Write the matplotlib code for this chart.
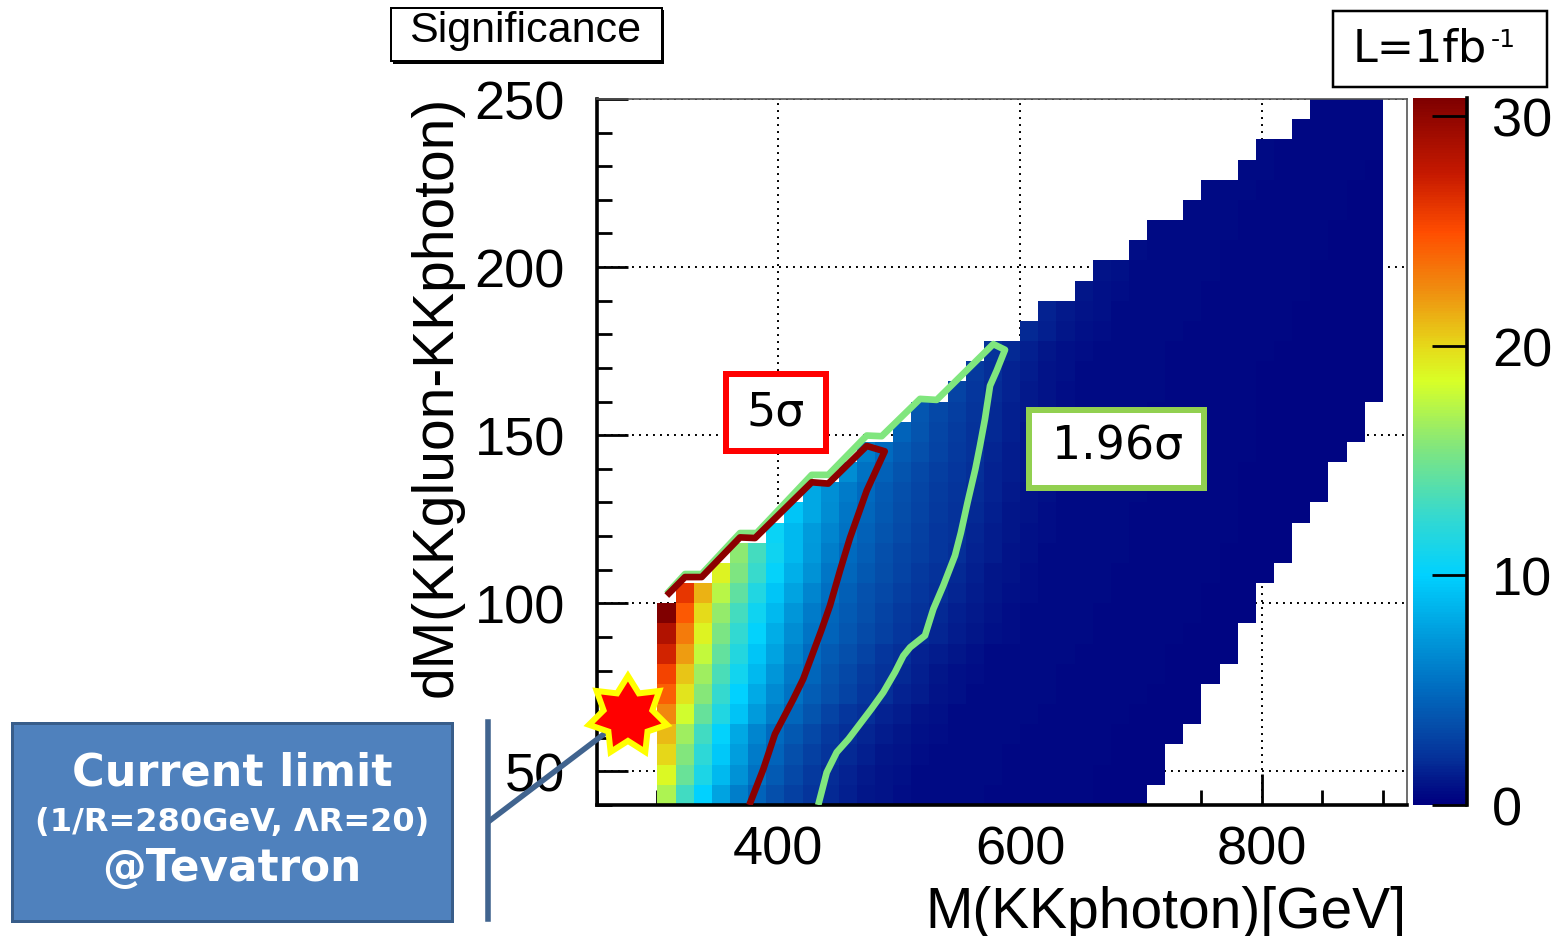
import numpy as np
import matplotlib
matplotlib.use("Agg")
import matplotlib.pyplot as plt
from matplotlib.colors import LinearSegmentedColormap
from matplotlib.patches import Rectangle, Polygon
from matplotlib.lines import Line2D
from matplotlib.ticker import MultipleLocator, FixedLocator

plt.rcParams['font.family'] = ['Liberation Sans', 'DejaVu Sans']

# ------------------------------------------------------------------ data
M_axis_range = [250, 920]          # M(KKphoton) [GeV]
dM_axis_range = [40, 250]          # dM(KKgluon-KKphoton) [GeV]
M_bin_low, M_bin_high, M_bin_width = 300, 900, 15
dM_bin_low, dM_bin_high, dM_bin_width = 40, 250, 6

# lower M edge of the first filled cell in each dM row (rows from dM=40 upwards)
row_first_M = [300, 300, 300, 300, 300, 300, 300, 300, 300, 300,
               315, 345, 360, 390, 405, 420, 450, 465, 495, 510,
               540, 555, 570, 600, 615, 645, 660, 690, 705, 735,
               750, 780, 795, 825, 840]

# significance per cell, row by row (dM = 40-46, 46-52, ...), left to right in M
sig_rows = [
    [17.0, 13.1, 10.1, 7.8, 6.0, 4.6, 3.6, 2.8, 2.2, 1.74, 1.37, 1.08, 0.86, 0.68, 0.58, 0.56, 0.53, 0.50, 0.48, 0.45, 0.43, 0.41, 0.39, 0.37, 0.35, 0.33, 0.32],
    [18.7, 14.6, 11.4, 8.9, 6.9, 5.4, 4.2, 3.2, 2.5, 1.91, 1.51, 1.19, 0.94, 0.74, 0.60, 0.57, 0.54, 0.51, 0.49, 0.46, 0.44, 0.42, 0.40, 0.38, 0.36, 0.34, 0.32, 0.31],
    [20.0, 15.6, 12.2, 9.6, 7.5, 5.8, 4.6, 3.6, 2.8, 2.2, 1.74, 1.37, 1.08, 0.86, 0.68, 0.58, 0.56, 0.53, 0.50, 0.48, 0.45, 0.43, 0.41, 0.39, 0.37, 0.35, 0.33, 0.32],
    [21.0, 16.5, 13.0, 10.2, 8.0, 6.3, 5.0, 4.0, 3.2, 2.5, 2.0, 1.61, 1.27, 1.00, 0.79, 0.62, 0.57, 0.55, 0.52, 0.49, 0.47, 0.45, 0.42, 0.40, 0.38, 0.36, 0.34, 0.33, 0.31],
    [22.7, 18.2, 14.5, 11.6, 9.3, 7.4, 5.9, 4.7, 3.8, 3.0, 2.4, 1.94, 1.53, 1.21, 0.96, 0.75, 0.60, 0.57, 0.54, 0.51, 0.49, 0.46, 0.44, 0.42, 0.40, 0.38, 0.36, 0.34, 0.32, 0.31],
    [24.3, 19.5, 15.7, 12.6, 10.1, 8.1, 6.5, 5.3, 4.3, 3.5, 2.9, 2.4, 1.94, 1.53, 1.21, 0.96, 0.75, 0.60, 0.57, 0.54, 0.51, 0.49, 0.46, 0.44, 0.42, 0.40, 0.38, 0.36, 0.34, 0.32],
    [25.5, 20.6, 16.6, 13.4, 10.9, 8.8, 7.1, 5.7, 4.7, 3.8, 3.2, 2.6, 2.1, 1.71, 1.35, 1.07, 0.84, 0.66, 0.58, 0.55, 0.53, 0.50, 0.48, 0.45, 0.43, 0.41, 0.39, 0.37, 0.35, 0.33, 0.32],
    [27.0, 21.9, 17.7, 14.4, 11.7, 9.5, 7.7, 6.2, 5.0, 4.2, 3.5, 2.9, 2.4, 1.97, 1.56, 1.23, 0.97, 0.77, 0.60, 0.57, 0.54, 0.52, 0.49, 0.47, 0.44, 0.42, 0.40, 0.38, 0.36, 0.34, 0.33, 0.31],
    [28.5, 23.2, 18.9, 15.3, 12.5, 10.2, 8.3, 6.7, 5.5, 4.6, 3.9, 3.3, 2.8, 2.4, 1.99, 1.58, 1.25, 0.99, 0.78, 0.61, 0.57, 0.55, 0.52, 0.49, 0.47, 0.45, 0.42, 0.40, 0.38, 0.36, 0.35, 0.33],
    [30.8, 24.5, 19.9, 16.2, 13.2, 10.8, 8.8, 7.2, 5.8, 4.8, 4.1, 3.5, 3.0, 2.5, 2.15, 1.77, 1.40, 1.10, 0.87, 0.69, 0.59, 0.56, 0.53, 0.50, 0.48, 0.46, 0.43, 0.41, 0.39, 0.37, 0.35, 0.34, 0.32],
    [26.0, 21.2, 17.4, 14.2, 11.6, 9.5, 7.7, 6.3, 5.2, 4.4, 3.7, 3.2, 2.7, 2.3, 1.99, 1.58, 1.25, 0.99, 0.78, 0.61, 0.57, 0.55, 0.52, 0.49, 0.47, 0.45, 0.42, 0.40, 0.38, 0.36, 0.35, 0.33],
    [19.0, 15.5, 12.7, 10.3, 8.4, 6.9, 5.6, 4.7, 4.0, 3.4, 2.9, 2.5, 2.1, 1.74, 1.37, 1.08, 0.86, 0.68, 0.58, 0.56, 0.53, 0.50, 0.48, 0.45, 0.43, 0.41, 0.39, 0.37, 0.35, 0.33, 0.32],
    [16.0, 13.2, 10.8, 8.9, 7.3, 6.0, 5.0, 4.3, 3.6, 3.1, 2.7, 2.3, 1.95, 1.53, 1.21, 0.96, 0.75, 0.60, 0.57, 0.54, 0.51, 0.49, 0.46, 0.44, 0.42, 0.40, 0.38, 0.36, 0.34, 0.33, 0.31],
    [10.5, 8.8, 7.4, 6.3, 5.3, 4.5, 3.8, 3.3, 2.8, 2.4, 2.05, 1.66, 1.31, 1.03, 0.82, 0.64, 0.58, 0.55, 0.52, 0.50, 0.47, 0.45, 0.43, 0.41, 0.39, 0.37, 0.35, 0.33, 0.32],
    [9.5, 8.0, 6.7, 5.6, 4.7, 4.0, 3.4, 2.9, 2.5, 2.1, 1.74, 1.37, 1.08, 0.86, 0.68, 0.58, 0.56, 0.53, 0.50, 0.48, 0.45, 0.43, 0.41, 0.39, 0.37, 0.35, 0.34, 0.32, 0.30],
    [8.0, 6.8, 5.8, 5.0, 4.2, 3.6, 3.1, 2.6, 2.2, 1.88, 1.49, 1.17, 0.93, 0.73, 0.59, 0.57, 0.54, 0.51, 0.49, 0.46, 0.44, 0.42, 0.40, 0.38, 0.36, 0.34, 0.32, 0.31, 0.29],
    [6.7, 5.4, 4.5, 3.8, 3.2, 2.7, 2.3, 1.97, 1.56, 1.23, 0.97, 0.77, 0.60, 0.57, 0.54, 0.52, 0.49, 0.47, 0.44, 0.42, 0.40, 0.38, 0.36, 0.34, 0.33, 0.31, 0.30],
    [6.0, 5.0, 4.2, 3.5, 2.9, 2.5, 2.1, 1.66, 1.31, 1.03, 0.82, 0.64, 0.58, 0.55, 0.52, 0.50, 0.47, 0.45, 0.43, 0.41, 0.39, 0.37, 0.35, 0.33, 0.32, 0.30, 0.29],
    [4.6, 3.8, 3.1, 2.6, 2.1, 1.71, 1.35, 1.07, 0.84, 0.66, 0.58, 0.55, 0.53, 0.50, 0.48, 0.45, 0.43, 0.41, 0.39, 0.37, 0.35, 0.34, 0.32, 0.30, 0.29, 0.27],
    [3.9, 3.2, 2.7, 2.2, 1.80, 1.42, 1.12, 0.88, 0.70, 0.59, 0.56, 0.53, 0.51, 0.48, 0.46, 0.44, 0.41, 0.39, 0.37, 0.36, 0.34, 0.32, 0.31, 0.29, 0.28],
    [3.0, 2.4, 1.85, 1.46, 1.16, 0.91, 0.72, 0.59, 0.56, 0.54, 0.51, 0.49, 0.46, 0.44, 0.42, 0.40, 0.38, 0.36, 0.34, 0.33, 0.31, 0.29, 0.28, 0.27],
    [2.5, 1.94, 1.53, 1.21, 0.96, 0.75, 0.60, 0.57, 0.54, 0.51, 0.49, 0.46, 0.44, 0.42, 0.40, 0.38, 0.36, 0.34, 0.33, 0.31, 0.29, 0.28, 0.27],
    [2.1, 1.69, 1.33, 1.05, 0.83, 0.65, 0.58, 0.55, 0.52, 0.50, 0.47, 0.45, 0.43, 0.41, 0.39, 0.37, 0.35, 0.33, 0.31, 0.30, 0.28, 0.27],
    [1.69, 1.33, 1.05, 0.83, 0.65, 0.58, 0.55, 0.52, 0.50, 0.47, 0.45, 0.43, 0.41, 0.39, 0.37, 0.35, 0.33, 0.31, 0.30, 0.28],
    [1.51, 1.19, 0.94, 0.74, 0.60, 0.57, 0.54, 0.51, 0.49, 0.46, 0.44, 0.42, 0.40, 0.38, 0.36, 0.34, 0.32, 0.31, 0.29],
    [1.07, 0.84, 0.66, 0.58, 0.55, 0.52, 0.50, 0.47, 0.45, 0.43, 0.41, 0.39, 0.37, 0.35, 0.33, 0.31, 0.30],
    [0.96, 0.75, 0.60, 0.57, 0.54, 0.51, 0.49, 0.46, 0.44, 0.42, 0.40, 0.38, 0.36, 0.34, 0.32, 0.31],
    [0.68, 0.58, 0.55, 0.52, 0.50, 0.47, 0.45, 0.43, 0.41, 0.39, 0.37, 0.35, 0.33, 0.31],
    [0.60, 0.57, 0.54, 0.51, 0.49, 0.46, 0.44, 0.42, 0.40, 0.38, 0.36, 0.34, 0.32],
    [0.56, 0.53, 0.50, 0.48, 0.45, 0.43, 0.41, 0.39, 0.37, 0.35, 0.33],
    [0.55, 0.52, 0.49, 0.47, 0.45, 0.42, 0.40, 0.38, 0.36, 0.34],
    [0.52, 0.49, 0.47, 0.44, 0.42, 0.40, 0.38, 0.36],
    [0.50, 0.48, 0.45, 0.43, 0.41, 0.39, 0.37],
    [0.47, 0.45, 0.43, 0.40, 0.38],
    [0.45, 0.43, 0.41, 0.39],
]

z_max = 30.8
cbar_ticks = [0, 10, 20, 30]
x_major_ticks = [400, 600, 800]
y_major_ticks = [50, 100, 150, 200, 250]

# 5 sigma contour
c5_M = [307.7, 322.8, 336.6, 368.3, 380.7, 427.6, 441.3, 473.1, 488.0,
        473.1, 459.3, 451.0, 442.7, 435.5, 420.6, 412.4, 397.2, 387.6, 376.0]
c5_dM = [102.3, 107.8, 107.8, 119.6, 119.4, 136.0, 135.6, 146.8, 145.2,
         133.5, 119.5, 109.7, 99.3, 91.9, 77.5, 71.5, 61.1, 50.7, 40.0]

# 1.96 sigma contour
c196_M = [307.7, 322.8, 336.6, 368.3, 382.1, 427.6, 441.3, 473.1, 485.5, 517.2, 531.0,
          577.8, 587.5, 580.6, 575.1, 570.9, 566.8, 563.0, 556.5, 551.0, 546.1, 536.4,
          528.2, 521.3, 509.0, 503.4, 496.5, 486.8, 477.0, 458.0, 448.3, 440.0, 433.0]
c196_dM = [102.8, 108.7, 108.7, 120.9, 120.9, 138.2, 138.2, 149.9, 149.7, 160.8, 160.5,
           177.1, 175.4, 169.2, 164.7, 154.8, 146.9, 140.0, 130.0, 121.0, 114.2, 105.2,
           98.3, 90.4, 86.9, 84.4, 79.5, 73.5, 68.6, 59.6, 55.7, 49.7, 40.0]

tevatron_limit_M, tevatron_limit_dM = 275.6, 66.5

# ------------------------------------------------------------------ figure
W, H = 1560, 937
fig = plt.figure(figsize=(W / 100, H / 100), dpi=100)


def fx(px):
    return px / W


def fy(py):
    return 1 - py / H


ax = fig.add_axes([fx(597), fy(806), (1407 - 597) / W, (806 - 100) / H])

cstops = [(0.0, (0.0, 0.0, 0.50)), (0.5, (0.0, 0.04, 0.52)), (1.0, (0.01, 0.09, 0.54)),
          (2.0, (0.02, 0.19, 0.60)), (3.5, (0.02, 0.31, 0.67)), (5.0, (0.0, 0.42, 0.75)),
          (7.5, (0.0, 0.62, 0.87)), (10.0, (0.0, 0.82, 1.0)), (12.5, (0.2, 0.85, 0.82)),
          (15.5, (0.5, 0.9, 0.5)), (18.5, (0.85, 1.0, 0.15)), (20.0, (0.9, 0.85, 0.1)),
          (22.5, (0.94, 0.55, 0.06)), (25.0, (1.0, 0.3, 0.0)), (27.5, (0.78, 0.1, 0.0)),
          (30.8, (0.5, 0.0, 0.0))]
cmap = LinearSegmentedColormap.from_list('rootrainbow', [(v / z_max, c) for v, c in cstops])

M_edges = np.arange(M_bin_low, M_bin_high + 1, M_bin_width)
dM_edges = np.arange(dM_bin_low, dM_bin_high + 1, dM_bin_width)
Z = np.full((len(dM_edges) - 1, len(M_edges) - 1), np.nan)
for i, (m0, vals) in enumerate(zip(row_first_M, sig_rows)):
    j0 = int(round((m0 - M_bin_low) / M_bin_width))
    for k, v in enumerate(vals):
        if j0 + k < Z.shape[1]:
            Z[i, j0 + k] = v
Zm = np.ma.masked_invalid(Z)

mesh = ax.pcolormesh(M_edges, dM_edges, Zm, cmap=cmap, vmin=0, vmax=z_max,
                     shading='flat', edgecolors='none', antialiased=False, zorder=1)

ax.plot(c196_M, c196_dM, color='#80E67E', lw=4.8, solid_joinstyle='round',
        solid_capstyle='butt', zorder=3)
ax.plot(c5_M, c5_dM, color='#8C0000', lw=4.8, solid_joinstyle='round',
        solid_capstyle='butt', zorder=4)

ax.set_xlim(*M_axis_range)
ax.set_ylim(*dM_axis_range)
ax.xaxis.set_major_locator(FixedLocator(x_major_ticks))
ax.yaxis.set_major_locator(FixedLocator(y_major_ticks))
ax.xaxis.set_minor_locator(MultipleLocator(50))
ax.yaxis.set_minor_locator(MultipleLocator(10))
ax.set_axisbelow(True)
ax.grid(True, which='major', color='black', linestyle=(0, (1, 2.6)), linewidth=1.4)
ax.tick_params(which='major', direction='in', length=22, width=2, labelsize=39,
               top=False, right=False)
ax.tick_params(axis='x', which='major', pad=14)
ax.tick_params(axis='y', which='major', pad=23)
ax.tick_params(which='minor', direction='in', length=11, width=2, top=False, right=False)
for s in ['left', 'bottom']:
    ax.spines[s].set_linewidth(2.6)
    ax.spines[s].set_color('black')
for s in ['top', 'right']:
    ax.spines[s].set_linewidth(1.2)
    ax.spines[s].set_color('#555555')

# colorbar
cax = fig.add_axes([fx(1413), fy(806), (1467 - 1413) / W, (806 - 99) / H])
cb = fig.colorbar(mesh, cax=cax, ticks=cbar_ticks)
cb.outline.set_visible(False)
cax.yaxis.set_ticks_position('right')
cax.tick_params(axis='y', direction='in', length=25, width=2, labelsize=39, pad=18)
cax.minorticks_off()
cax.plot([1, 1], [0, 1], transform=cax.transAxes, color='black', lw=2.6, clip_on=False)

# axis titles
fig.text(fx(437), fy(396), 'dM(KKgluon-KKphoton)', rotation=90, ha='center',
         va='center', fontsize=41)
fig.text(fx(1407), fy(928), 'M(KKphoton)[GeV]', ha='right', va='baseline', fontsize=41)


def box(x0, y0, x1, y1, lw_px, ec, fc='white', z=5):
    r = Rectangle((fx(x0), fy(y1)), (x1 - x0) / W, (y1 - y0) / H, transform=fig.transFigure,
                  lw=lw_px * 0.72, edgecolor=ec, facecolor=fc, zorder=z)
    fig.add_artist(r)
    return r


# "Significance" title box with shadow
box(393, 11, 664, 65, 0, 'black', fc='black', z=4)
box(391, 9, 662, 62, 2, 'black')
fig.text(fx(525), fy(42), 'Significance', ha='center', va='baseline', fontsize=31, zorder=6)

# luminosity box
box(1333, 12, 1547, 88, 2.5, 'black')
fig.text(fx(1353), fy(62), 'L=1fb', ha='left', va='baseline', fontsize=32,
         family=['DejaVu Sans'], zorder=6)
fig.text(fx(1491), fy(47), '-1', ha='left', va='baseline', fontsize=18,
         family=['DejaVu Sans'], zorder=6)

# 5 sigma label
box(726.3, 374.7, 826.3, 452, 6, '#FF0000')
fig.text(fx(776), fy(425), '5σ', ha='center', va='baseline', fontsize=33,
         family=['DejaVu Sans'], zorder=6)

# 1.96 sigma label
box(1029, 411, 1204, 489, 6, '#92D050')
fig.text(fx(1118), fy(460), '1.96σ', ha='center', va='baseline', fontsize=33,
         family=['DejaVu Sans'], zorder=6)

# current limit call-out
bold_family = ['DejaVu Sans']
box(12, 723.5, 452, 921.5, 3, '#385D8A', fc='#4F81BD')
fig.text(fx(232), fy(786), 'Current limit', ha='center', va='baseline', fontsize=32,
         color='white', fontweight='bold', family=bold_family, zorder=6)
fig.text(fx(232), fy(831), '(1/R=280GeV, ΛR=20)', ha='center', va='baseline', fontsize=23,
         color='white', fontweight='bold', family=bold_family, zorder=6)
fig.text(fx(232), fy(881), '@Tevatron', ha='center', va='baseline', fontsize=31.5,
         color='white', fontweight='bold', family=bold_family, zorder=6)

# star at the current limit
fig.canvas.draw()
sx, sy = ax.transData.transform((tevatron_limit_M, tevatron_limit_dM))
cx_px, cy_px = sx, H - sy

fig.add_artist(Line2D([fx(488), fx(488)], [fy(723), fy(920)], transform=fig.transFigure,
                      color='#41648F', lw=4, zorder=5))
fig.add_artist(Line2D([fx(488), fx(cx_px)], [fy(823), fy(cy_px)], transform=fig.transFigure,
                      color='#41648F', lw=4, zorder=5, solid_capstyle='butt'))

R_out, R_in, n_pts = 40, 25, 7
verts = []
for k in range(2 * n_pts):
    a = np.pi / 2 - k * np.pi / n_pts
    r = R_out if k % 2 == 0 else R_in
    verts.append((fx(cx_px + r * np.cos(a)), fy(cy_px - r * np.sin(a))))
fig.add_artist(Polygon(verts, closed=True, transform=fig.transFigure, facecolor='#FF0000',
                       edgecolor='#FFFF00', lw=4.3, joinstyle='miter', zorder=7))

fig.savefig('out.png', dpi=100)
